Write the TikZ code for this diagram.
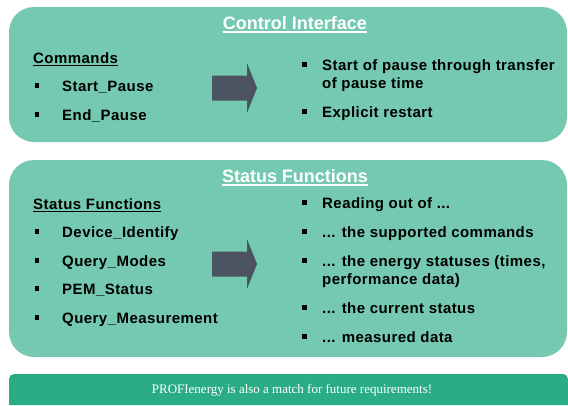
\documentclass[tikz,border=0pt]{standalone}
\usepackage{fontspec}
\setmainfont{Liberation Sans}
\newfontfamily\barfont{Liberation Serif}
\newfontfamily\listfont[LetterSpace=3.0]{Liberation Sans}
\definecolor{panelgreen}{HTML}{74C9B0}
\definecolor{bargreen}{HTML}{2AAD84}
\definecolor{arrowgray}{HTML}{4B5360}
\newcommand{\ddd}{...}
\tikzset{
    panel/.style={fill=panelgreen, rounded corners=25pt},
    title/.style={anchor=base, text=white, font=\fontsize{18}{20}\selectfont\bfseries, inner sep=0pt},
    head/.style={anchor=base west, font=\listfont\fontsize{15}{18}\selectfont\bfseries, inner sep=0pt},
    item/.style={anchor=base west, font=\listfont\fontsize{15}{18}\selectfont\bfseries, inner sep=0pt},
    bul/.style={fill=black, inner sep=0pt, minimum width=4.5pt, minimum height=5pt},
    bigarrow/.style={fill=arrowgray}
}
\begin{document}
\begin{tikzpicture}[x=1pt, y=-1pt]
        \useasboundingbox (0, 0) rectangle (568, 405);
        % panels
        \fill[panel] (9, 7) rectangle (567, 142);
        \fill[panel] (9, 160) rectangle (567, 357);
        \fill[bargreen, rounded corners=5pt] (9, 405) -- (9, 374) -- (568, 374) [sharp corners] -- (568, 405) -- cycle;
        % titles
        \node[title] (ctrl) at (295, 29) {Control Interface};
        \draw[white, line width=1.4pt] ([yshift=-3pt]ctrl.base west) -- ([yshift=-3pt]ctrl.base east);
        \node[title] (stat) at (295, 182) {Status Functions};
        \draw[white, line width=1.4pt] ([yshift=-3pt]stat.base west) -- ([yshift=-3pt]stat.base east);
        % left lists
        \node[head] (cmds) at (33, 63) {Commands};
        \draw[line width=1.2pt] ([yshift=-2.5pt]cmds.base west) -- ([yshift=-2.5pt]cmds.base east);
        \foreach \t/\y [count=\i] in {Start\_Pause/91, End\_Pause/120} {
            \node[bul] (cb\i) at (37, \y-5.5) {};
            \node[item] (c\i) at (62, \y) {\t};
        }
        \node[head] (funcs) at (33, 209) {Status Functions};
        \draw[line width=1.2pt] ([yshift=-2.5pt]funcs.base west) -- ([yshift=-2.5pt]funcs.base east);
        \foreach \t/\y [count=\i] in {Device\_Identify/237, Query\_Modes/266, PEM\_Status/294, Query\_Measurement/323} {
            \node[bul] (sb\i) at (37, \y-5.5) {};
            \node[item] (s\i) at (62, \y) {\t};
        }
        % arrows
        \foreach \y in {88, 264} {
            \fill[bigarrow] (212, \y-12.5) -- (247, \y-12.5) -- (247, \y-25) -- (257, \y)
                -- (247, \y+25) -- (247, \y+12.5) -- (212, \y+12.5) -- cycle;
        }
        % right lists
        \node[bul] (rb1) at (304.5, 70-5.5) {};
        \node[item] (r1) at (322, 70) {Start of pause through transfer};
        \node[item] (r1b) at (322, 88) {of pause time};
        \node[bul] (rb2) at (304.5, 117-5.5) {};
        \node[item] (r2) at (322, 117) {Explicit restart};
        \foreach \t/\y [count=\i] in {Reading out of \ddd/208, \ddd{} the supported commands/237, {\ddd{} the energy statuses (times,}/266, \ddd{} the current status/313, \ddd{} measured data/342} {
            \node[bul] (tb\i) at (304.5, \y-5.5) {};
            \node[item] (t\i) at (322, \y) {\t};
        }
        \node[item] (t3b) at (322, 284) {performance data)};
        % bottom bar
        \node[text=white, font=\barfont\fontsize{13}{15}\selectfont, inner sep=0pt] (note) at (292, 390) {PROFIenergy is also a match for future requirements!};
    \end{tikzpicture}
\end{document}
